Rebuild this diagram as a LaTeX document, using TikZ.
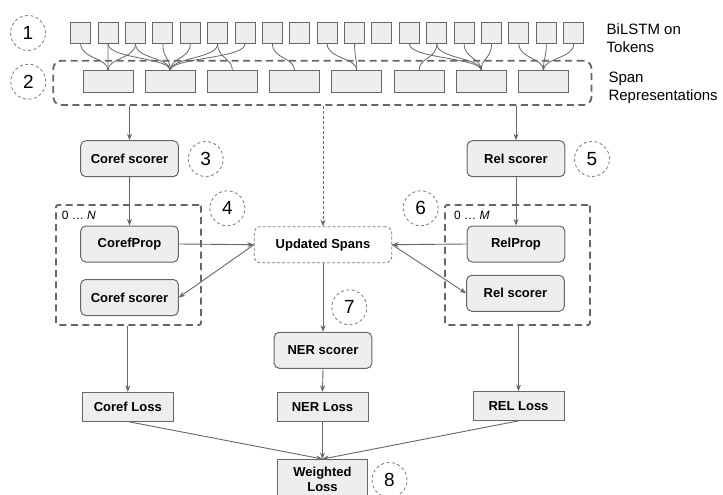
\documentclass[tikz,border=0pt]{standalone}
\usepackage{fontspec}
\setmainfont{Liberation Sans}
\usetikzlibrary{arrows.meta}
\definecolor{boxfill}{HTML}{EEEEEE}
\definecolor{edge}{HTML}{666666}
\definecolor{ringcol}{HTML}{7A7A7A}

\begin{document}
\begin{tikzpicture}[x=1pt,y=-1pt,
  tok/.style={draw=edge, fill=boxfill, line width=1, minimum width=20, minimum height=21, inner sep=0},
  spanrep/.style={draw=edge, fill=boxfill, line width=1, minimum width=50, minimum height=21.3, inner sep=0},
  scorer/.style={draw=edge, fill=boxfill, line width=1, rounded corners=5, minimum width=97.6, minimum height=36, inner sep=0, font=\fontsize{13}{15}\selectfont\bfseries},
  lossbox/.style={draw=edge, fill=boxfill, line width=1, minimum width=91, minimum height=28.7, inner sep=0, font=\fontsize{13}{15}\selectfont\bfseries},
  grp/.style={draw=edge, line width=1.8, dash pattern=on 7 off 4.5, rounded corners=2, inner sep=0},
  numring/.style={draw=ringcol, circle, line width=0.8, dash pattern=on 3 off 2.5, minimum size=35, inner sep=0, font=\fontsize{19}{21}\selectfont},
  arr/.style={draw=edge, line width=0.9, -{Stealth[length=6.5,width=5]}},
  link/.style={draw=edge, line width=0.8},
  sidetext/.style={anchor=west, inner sep=0, align=left, font=\fontsize{15}{17.7}\selectfont},
  iter/.style={anchor=west, inner sep=0, font=\fontsize{12}{14}\selectfont}
]
\useasboundingbox (0,0) rectangle (723,495);

% container of the span representations
\node[grp, rounded corners=8, minimum width=538.2, minimum height=44.3] (spanbox) at (322.4,82.85) {};

% BiLSTM token cells
\foreach \i in {1,...,19}
  \node[tok] (t\i) at ({80.7+(\i-1)*27.39},32.8) {};

% span representation cells
\foreach \j in {1,...,8}
  \node[spanrep] (s\j) at ({108+(\j-1)*62.2},81.65) {};

% token-to-span links
\foreach \a/\b in {1/1,2/1,3/1,
                   2/2,3/2,4/2,5/2,6/2,7/2,
                   6/3, 8/4, 10/5,11/5, 14/6,
                   13/7,14/7,15/7,16/7,
                   17/8,18/8,19/8}
  \draw[link] (t\a.south) .. controls +(0,15) and +(0,-13) .. (s\b.north);

\node[sidetext] (lblA) at (606.5,37.9) {BiLSTM on\\Tokens};
\node[sidetext] (lblB) at (608.3,87.5) {Span\\Representations};

% first-stage scorers
\node[scorer] (cs1) at (129.5,158.7) {Coref scorer};
\node[scorer] (rs1) at (516,158.7) {Rel scorer};

% iterative propagation groups
\node[grp, minimum width=145, minimum height=120] (grpN) at (128.5,265) {};
\node[grp, minimum width=145, minimum height=120] (grpM) at (517.5,265) {};
\node[iter] (itN) at (61.7,215.7) {0 … \textit{N}};
\node[iter] (itM) at (454,215.7) {0 … \textit{M}};

\node[scorer] (cprop) at (129.5,244) {CorefProp};
\node[scorer] (cs2) at (129.5,297.5) {Coref scorer};
\node[scorer] (rprop) at (516,244) {RelProp};
\node[scorer] (rs2) at (515.5,293.3) {Rel scorer};

\node[draw=ringcol, fill=white, line width=0.8, dash pattern=on 3 off 2, rounded corners=6,
      minimum width=137.4, minimum height=36, inner sep=0,
      font=\fontsize{13}{15}\selectfont\bfseries] (upd) at (323,244.7) {Updated Spans};

\node[scorer] (ner) at (323,350.3) {NER scorer};

% losses
\node[lossbox] (closs) at (127.8,406.7) {Coref Loss};
\node[lossbox] (nloss) at (322.5,406.7) {NER Loss};
\node[lossbox] (rloss) at (518.5,406) {REL Loss};
\node[lossbox, minimum width=90, minimum height=40, align=center] (wloss) at (322.5,479.5) {Weighted\\Loss};

% step numbers
\node[numring] (n1) at (28,33) {1};
\node[numring] (n2) at (28.3,81.7) {2};
\node[numring] (n3) at (205.7,159) {3};
\node[numring] (n4) at (227.3,208.3) {4};
\node[numring] (n5) at (592,159) {5};
\node[numring] (n6) at (420.7,208.3) {6};
\node[numring] (n7) at (349.3,307.3) {7};
\node[numring] (n8) at (389.5,480) {8};

% connectors
\draw[arr] (spanbox.south -| cs1) -- (cs1.north);
\draw[arr] (spanbox.south -| rs1) -- (rs1.north);
\draw[arr, line width=0.8, dash pattern=on 3 off 2] (spanbox.south -| upd) -- (upd.north);
\draw[arr] (cs1.south) -- (cprop.north);
\draw[arr] (rs1.south) -- (rprop.north);
\draw[arr] (cprop.east) -- (upd.west);
\draw[arr] (upd.west) -- (cs2.east);
\draw[arr] (rprop.west) -- (upd.east);
\draw[arr] (upd.east) -- (rs2.west);
\draw[arr] (upd.south) -- (ner.north);
\draw[arr] (ner.south) -- (nloss.north);
\draw[arr] (grpN.south -| closs) -- (closs.north);
\draw[arr] (grpM.south -| rloss) -- (rloss.north);
\draw[arr] (closs.south) -- (wloss.north);
\draw[arr] (nloss.south) -- (wloss.north);
\draw[arr] (rloss.south) -- (wloss.north);
\end{tikzpicture}
\end{document}
